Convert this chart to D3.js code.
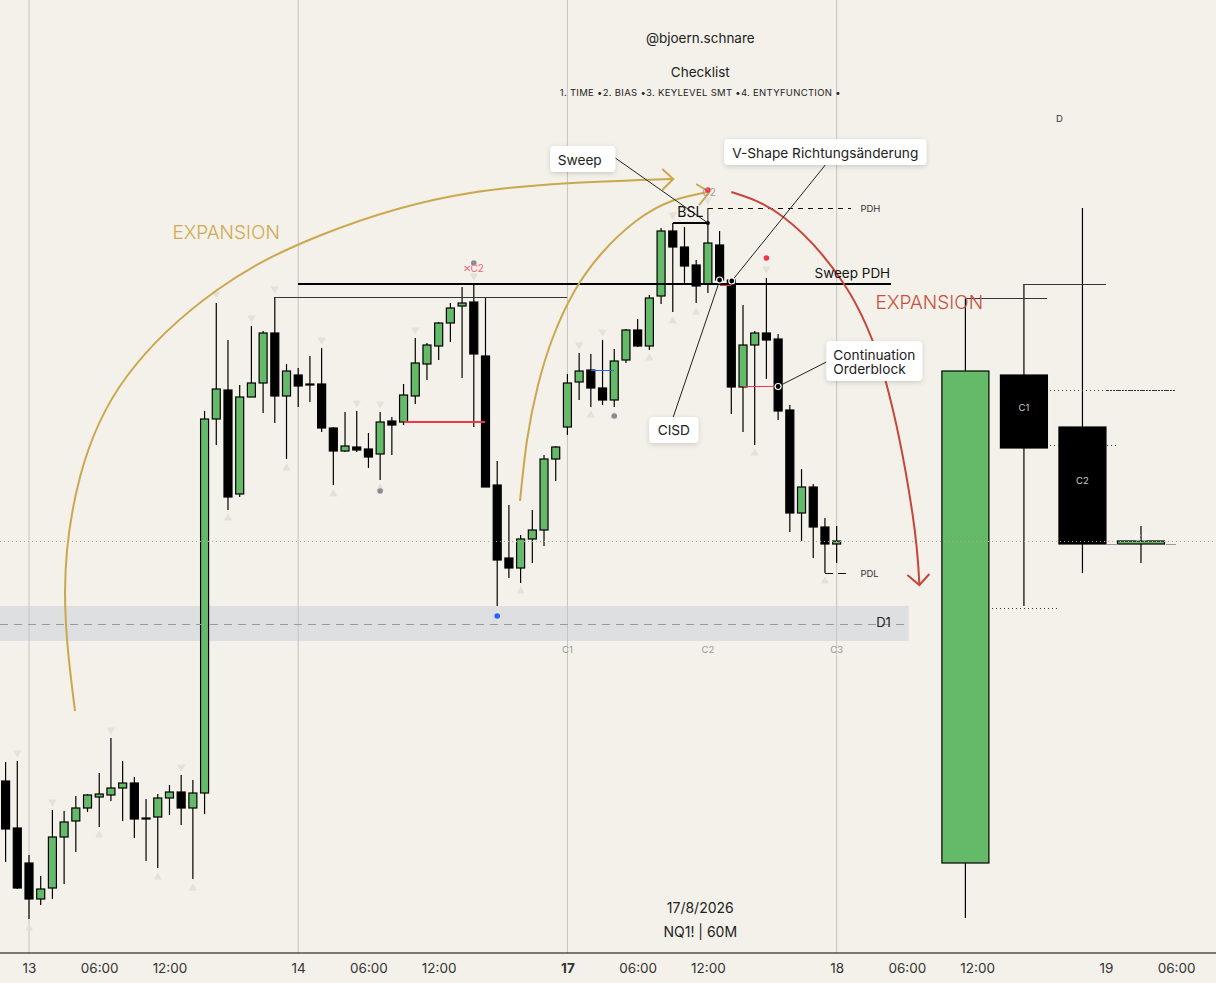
<!DOCTYPE html>
<html>
<script src="https://d3js.org/d3.v7.min.js"></script>
<style>
	html, body {margin: 0; padding: 0; background: #f4f1ea; }
	svg {display: block; font-family: Inter, "Noto Sans", sans-serif; }
	.tick line {display: none; }
</style>
<body>
<svg id="chart" width="1216" height="983"></svg>
<script>
// 60 minute candles, first bar sits two hours before the "13" tick
const firstBar = -2;
const opens = [219,172,137,101,112,163,179,192,203,205,212,217,182,183,202,208,192,207,581,610,506,603,617,667,604,625,616,616,572,549,553,551,546,579,578,604,636,654,677,694,698,644,515,442,432,461,470,541,573,618,630,612,600,640,670,654,704,769,753,735,716,755,720,613,655,667,661,590,487,513,473,456];
const highs = [238,239,145,124,190,189,204,206,227,262,239,223,201,206,215,225,220,589,697,660,615,674,669,703,636,632,644,652,573,588,589,567,588,583,616,662,657,678,697,713,715,703,539,495,465,490,545,554,626,647,646,660,651,671,681,705,772,777,773,740,777,769,722,695,669,722,666,595,531,516,482,474];
const lows = [138,111,81,95,101,116,148,188,173,199,179,162,139,132,185,175,121,186,555,490,503,603,587,577,541,593,598,568,515,548,548,532,520,545,575,596,620,640,658,622,573,513,394,422,417,437,454,519,565,600,593,595,593,637,653,650,696,688,716,697,707,715,586,568,555,621,580,468,459,442,427,437];
const closes = [171,112,101,111,163,178,192,205,206,212,217,181,181,202,208,192,207,581,611,503,603,617,667,604,629,614,615,572,549,554,550,543,578,575,605,637,655,677,692,697,646,513,440,432,461,470,541,553,617,629,612,600,639,670,654,702,769,753,734,714,757,720,613,655,667,660,589,487,513,473,456,459];

// higher timeframe candles pasted on the right
const htfBars = [80,85,90,95];
const htfOpens = [137,625,573,456];
const htfHighs = [702,716,792,474];
const htfLows = [82,394,427,437];
const htfCloses = [629,552,456,459];

const tickBars = [0,6,12,23,29,35,46,52,58,69,75,81,92,98];
const tickLabels = ["13","06:00","12:00","14","06:00","12:00","17","06:00","12:00","18","06:00","12:00","19","06:00"];
const dayBars = [0,23,46,69];

const swingHighs = [[-1,247],[2,198],[7,270],[13,233],[16,706],[19,682],[21,711],[25,660],[28,597],[30,596],[33,670],[38,724],[47,655],[49,668],[55,785],[58,800],[63,731]];
const swingLows = [[0,72],[6,165],[11,123],[14,112],[17,482],[22,532],[26,506],[30,512],[40,387],[42,409],[48,585],[50,584],[53,642],[55,679],[57,688],[62,547],[68,419]];
const dots = [[38,737,"#8a8c94"],[30,509,"#8a8c94"],[50,584,"#8a8c94"],[40,384,"#2962ff"],[58,810,"#f23645"],[63,742,"#f23645"]];
const rings = [[59,720],[60.04,719],[64,613.5]];

const goldCurve1 = [[3.93,289],[3.08,408],[4.36,523],[8.38,624],[16.07,710],[24.87,764.5],[37.69,807],[55.04,821]];
const goldArrow1 = [[54.1,831],[55.04,821],[54.1,810]];
const goldCurve2 = [[41.95,499],[42.55,560],[43.49,615],[44.77,663],[46.56,708],[48.87,746],[51.86,779],[54.93,799],[58.01,808]];
const goldArrow2 = [[57,816],[58.12,808],[57.26,795]];
const redCurve = [[60,808],[64.44,783],[69.57,717],[73.16,620],[75.47,487],[76.07,415]];
const redArrow = [[75.04,425],[76.07,415],[76.92,426]];

// level lines: bar from, bar to, price, colour, width, dash
const levels = [
	[-2.48,101.5,458.5,"#b5ab78",1,"1,3"],
	[-2.48,75.15,376,"#9a9a9e",1,"8,6"],
	[21,46,703,"#33343c",1,""],
	[80,87,702,"#33343c",1,""],
	[85,92.05,716,"#33343c",1,""],
	[87.26,98.03,610,"#33343c",1,"1,3"],
	[92.1,98.03,610,"#33343c",1,"2,1"],
	[87.26,88.03,555,"#33343c",1,"1,3"],
	[92.14,93,555,"#33343c",1,"1,3"],
	[82.3,88.03,392,"#33343c",1,"1,3"],
	[92.05,93,455.5,"#9a9a9e",1,""],
	[97.18,98.03,455.5,"#9a9a9e",1,""],
	[58,70.2,792,"#111",1,"5,5"],
	[68,70,427,"#111",1,"8,5"],
	[55,58,777,"#000",2,""],
	[32,39,578,"#f23645",2,""],
	[61,64,613.5,"#f23645",1,""],
	[59,60,715,"#f23645",1,""],
	[48,50,630,"#2962ff",1,""],
	[23,73.68,716,"#000",2,""]
];
const leaders = [
	[50.09,842,58,777],
	[68.03,835,60.04,719],
	[55.04,583,59.02,720],
	[68.12,638,64,613.5]
];

// bar, price, text, size, colour, anchor
const labels = [
	[57.35,962,"@bjoern.schnare",13.5,"#222","middle"],
	[57.35,928,"Checklist",13.5,"#222","middle"],
	[57.35,908,"1. TIME \u20222. BIAS \u20223. KEYLEVEL SMT \u20224. ENTYFUNCTION \u2022",9.5,"#222","middle"],
	[88.03,882,"D",9.5,"#333","middle"],
	[57.35,93,"17/8/2026",14,"#222","middle"],
	[57.35,69,"NQ1! | 60M",14,"#222","middle"],
	[56.5,789,"BSL",14,"#111","middle"],
	[71.03,792,"PDH",9.5,"#333","start"],
	[71.03,427,"PDL",9.5,"#333","start"],
	[70.34,727,"Sweep PDH",13.5,"#111","middle"],
	[16.84,768,"EXPANSION",19,"#cfa950","middle"],
	[76.92,698,"EXPANSION",19,"#c9503c","middle"],
	[73,378,"D1",13,"#222","middle"],
	[46,351,"C1",9.5,"#999","middle"],
	[58,351,"C2",9.5,"#999","middle"],
	[69,351,"C3",9.5,"#999","middle"],
	[37.95,732,"\u2715C2",10,"#f0687c","middle"],
	[58.1,808,"C2",10,"#999","middle"],
	[85,593,"C1",9.5,"#ccc","middle"],
	[90,520,"C2",9.5,"#ccc","middle"],
	[95,463,"C3",9.5,"#fff","middle"]
];
// bar from, bar to, price top, price bottom
const callouts = [
	[44.53,50.09,854,828],
	[59.4,76.67,861,835],
	[52.99,57.18,583,557],
	[68.12,76.32,659,619]
];
const calloutTexts = [
	[47.05,840,"Sweep","middle"],
	[68.03,847,"V-Shape Richtungs\u00e4nderung","middle"],
	[55.09,570,"CISD","middle"],
	[68.72,645,"Continuation","start"],
	[68.72,631,"Orderblock","start"]
];

const svg = d3.select("#chart");
const x = d3.scaleLinear().domain([0,100]).range([29,1199.5]);
const y = d3.scaleLinear().domain([47,1000]).range([953,0]);
const axisY = y(47);
const green = "#65ba6a";

const defs = svg.append("defs");
const shadow = defs.append("filter").attr("id","shadow").attr("x","-20%").attr("y","-30%").attr("width","140%").attr("height","170%");
shadow.append("feDropShadow").attr("dx",0).attr("dy",1.5).attr("stdDeviation",2.5).attr("flood-color","#000").attr("flood-opacity",0.16);

svg.append("rect").attr("width",1216).attr("height",983).attr("fill","#f4f1ea");

// D1 zone
svg.append("rect")
	.attr("x",x(-2.48)).attr("width",x(75.15)-x(-2.48))
	.attr("y",y(394)).attr("height",y(359)-y(394))
	.attr("fill","#dedfe1");

svg.selectAll(".grid").data(dayBars).enter().append("line")
	.attr("x1",d => x(d)).attr("x2",d => x(d))
	.attr("y1",0).attr("y2",axisY)
	.attr("stroke","#c4c4c0").attr("stroke-width",1);

const triangle = d3.symbol().type(d3.symbolTriangle).size(30);
svg.selectAll(".up").data(swingLows).enter().append("path")
	.attr("d",triangle)
	.attr("transform",d => `translate(${x(d[0])},${y(d[1])})`)
	.attr("fill","#e3e1dc");
svg.selectAll(".down").data(swingHighs).enter().append("path")
	.attr("d",triangle)
	.attr("transform",d => `translate(${x(d[0])},${y(d[1])}) rotate(180)`)
	.attr("fill","#e3e1dc");

// candles
const bars = opens.map((o,i) => ({bar: firstBar + i, o, h: highs[i], l: lows[i], c: closes[i], w: 8}));
const htf = htfBars.map((b,i) => ({bar: b, o: htfOpens[i], h: htfHighs[i], l: htfLows[i], c: htfCloses[i], w: 47}));
const candles = svg.append("g").selectAll("g").data(bars.concat(htf)).enter().append("g");
candles.append("line")
	.attr("x1",d => x(d.bar)).attr("x2",d => x(d.bar))
	.attr("y1",d => y(d.h)).attr("y2",d => y(d.l))
	.attr("stroke","#000").attr("stroke-width",1.2);
candles.append("rect")
	.attr("x",d => x(d.bar) - d.w / 2).attr("width",d => d.w)
	.attr("y",d => y(Math.max(d.o,d.c)))
	.attr("height",d => Math.max(1,Math.abs(y(d.o) - y(d.c))))
	.attr("fill",d => d.c >= d.o ? green : "#000")
	.attr("stroke","#000").attr("stroke-width",1.2);

svg.selectAll(".level").data(levels).enter().append("line")
	.attr("x1",d => x(d[0])).attr("x2",d => x(d[1]))
	.attr("y1",d => y(d[2])).attr("y2",d => y(d[2]))
	.attr("stroke",d => d[3]).attr("stroke-width",d => d[4])
	.attr("stroke-dasharray",d => d[5])
	.attr("shape-rendering","crispEdges");

// PDH stem and BSL end point
svg.append("line").attr("x1",x(58)).attr("x2",x(58)).attr("y1",y(792)).attr("y2",y(777))
	.attr("stroke","#111").attr("stroke-width",1);
svg.append("circle").attr("cx",x(58)).attr("cy",y(777)).attr("r",2).attr("fill","#000");

const smooth = d3.line().x(d => x(d[0])).y(d => y(d[1])).curve(d3.curveNatural);
const straight = d3.line().x(d => x(d[0])).y(d => y(d[1]));
[[goldCurve1,goldArrow1,"#cba84e"],[goldCurve2,goldArrow2,"#cba84e"],[redCurve,redArrow,"#c5473a"]].forEach(c => {
	svg.append("path").attr("d",smooth(c[0])).attr("fill","none").attr("stroke",c[2]).attr("stroke-width",2);
	svg.append("path").attr("d",straight(c[1])).attr("fill","none").attr("stroke",c[2]).attr("stroke-width",2);
});

svg.selectAll(".dot").data(dots).enter().append("circle")
	.attr("cx",d => x(d[0])).attr("cy",d => y(d[1])).attr("r",2.8)
	.attr("fill",d => d[2]);

svg.selectAll(".leader").data(leaders).enter().append("line")
	.attr("x1",d => x(d[0])).attr("y1",d => y(d[1]))
	.attr("x2",d => x(d[2])).attr("y2",d => y(d[3]))
	.attr("stroke","#222").attr("stroke-width",1);

svg.selectAll(".ring").data(rings).enter().append("circle")
	.attr("cx",d => x(d[0])).attr("cy",d => y(d[1])).attr("r",3)
	.attr("fill","#000").attr("stroke","#fff").attr("stroke-width",1.2);

svg.selectAll(".callout").data(callouts).enter().append("rect")
	.attr("x",d => x(d[0])).attr("width",d => x(d[1]) - x(d[0]))
	.attr("y",d => y(d[2])).attr("height",d => y(d[3]) - y(d[2]))
	.attr("rx",4).attr("fill","#fff").attr("filter","url(#shadow)");

svg.selectAll(".calloutText").data(calloutTexts).enter().append("text")
	.attr("x",d => x(d[0])).attr("y",d => y(d[1]))
	.attr("text-anchor",d => d[3]).attr("dominant-baseline","central")
	.attr("font-size",13.7).attr("fill","#222")
	.text(d => d[2]);

svg.selectAll(".label").data(labels).enter().append("text")
	.attr("x",d => x(d[0])).attr("y",d => y(d[1]))
	.attr("font-size",d => d[3]).attr("fill",d => d[4])
	.attr("text-anchor",d => d[5]).attr("dominant-baseline","central")
	.attr("font-weight",d => d[2] === "EXPANSION" ? 300 : 400)
	.attr("letter-spacing",d => d[2].startsWith("1. TIME") ? 0.3 : 0)
	.attr("opacity",d => d[2] === "C3" && d[4] === "#fff" ? 0.5 : 1)
	.text(d => d[2]);

// time axis
const axis = svg.append("g")
	.attr("transform",`translate(0,${axisY})`)
	.call(d3.axisBottom(x).tickValues(tickBars).tickSize(0).tickPadding(10).tickFormat((d,i) => tickLabels[i]));
axis.select(".domain").attr("d","M0,0H1216").attr("stroke","#000").attr("stroke-width",1.2);
axis.selectAll("text")
	.attr("font-family","Inter, sans-serif").attr("font-size",13.5).attr("fill","#333")
	.attr("font-weight",d => d === 46 ? 700 : 400);
</script>
</body>
</html>
